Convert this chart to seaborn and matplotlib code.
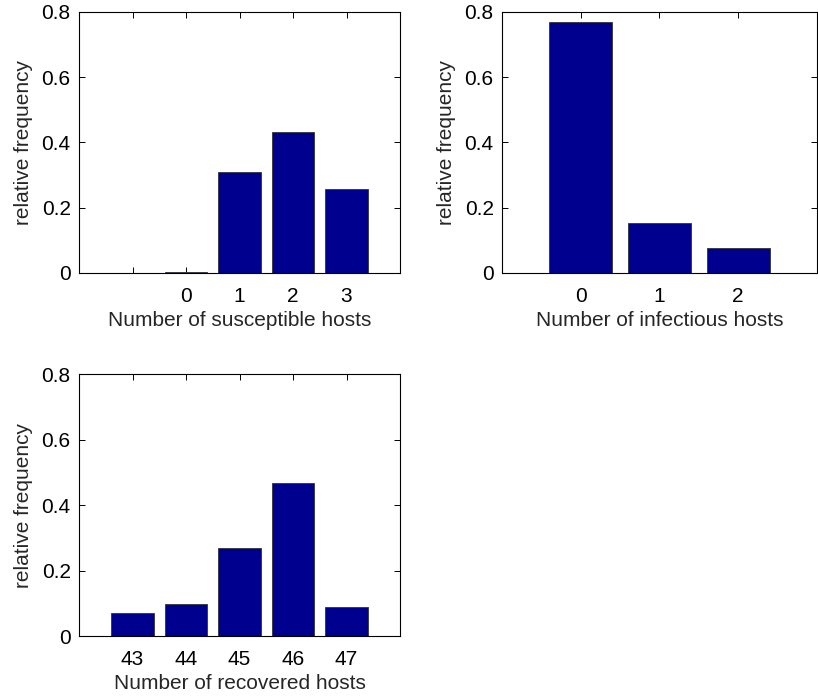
import pandas as pd
import matplotlib.pyplot as plt
import seaborn as sns

# data
susceptible = [0, 1, 2, 3]
susceptible_freq = [0.003, 0.31, 0.431, 0.258]

infectious = [0, 1, 2]
infectious_freq = [0.769, 0.153, 0.078]

recovered = [43, 44, 45, 46, 47]
recovered_freq = [0.071, 0.097, 0.27, 0.467, 0.09]

sns.set_style("ticks")
plt.rcParams['font.family'] = ['Liberation Sans', 'DejaVu Sans']
plt.rcParams['xtick.direction'] = 'in'
plt.rcParams['ytick.direction'] = 'in'
plt.rcParams['xtick.top'] = True
plt.rcParams['ytick.right'] = True

bar_color = '#00008F'
fs = 15

fig = plt.figure(figsize=(8.18, 7), dpi=100)
ax1 = fig.add_axes([0.0966, 0.61, 0.3924, 0.373])
ax2 = fig.add_axes([0.6137, 0.61, 0.385, 0.373])
ax3 = fig.add_axes([0.0966, 0.0914, 0.3924, 0.374])


def hist_panel(ax, xs, ys, xlabel, xlim, ticks, ticklabels):
    df = pd.DataFrame({'x': xs, 'y': ys})
    sns.barplot(data=df, x='x', y='y', native_scale=True, color=bar_color,
                saturation=1, edgecolor='#333333', linewidth=0.6, width=0.8, ax=ax)
    ax.set_xlim(*xlim)
    ax.set_ylim(0, 0.8)
    ax.set_xticks(ticks)
    ax.set_xticklabels(ticklabels)
    ax.set_yticks([0, 0.2, 0.4, 0.6, 0.8])
    ax.set_yticklabels(['0', '0.2', '0.4', '0.6', '0.8'])
    ax.set_xlabel(xlabel, fontsize=fs, labelpad=4)
    ax.set_ylabel("relative frequency", fontsize=fs, labelpad=6)
    ax.tick_params(labelsize=fs, length=4, width=0.7, colors='black')
    ax.tick_params(axis='x', pad=10)
    ax.tick_params(axis='y', pad=6)
    for s in ax.spines.values():
        s.set_linewidth(0.8)
        s.set_color('black')


hist_panel(ax1, susceptible, susceptible_freq, "Number of susceptible hosts",
           (-2, 4), [-1, 0, 1, 2, 3], ['', '0', '1', '2', '3'])
hist_panel(ax2, infectious, infectious_freq, "Number of infectious hosts",
           (-1, 3), [0, 1, 2], ['0', '1', '2'])
hist_panel(ax3, recovered, recovered_freq, "Number of recovered hosts",
           (42, 48), [43, 44, 45, 46, 47], ['43', '44', '45', '46', '47'])

plt.savefig("out.png", dpi=100)
